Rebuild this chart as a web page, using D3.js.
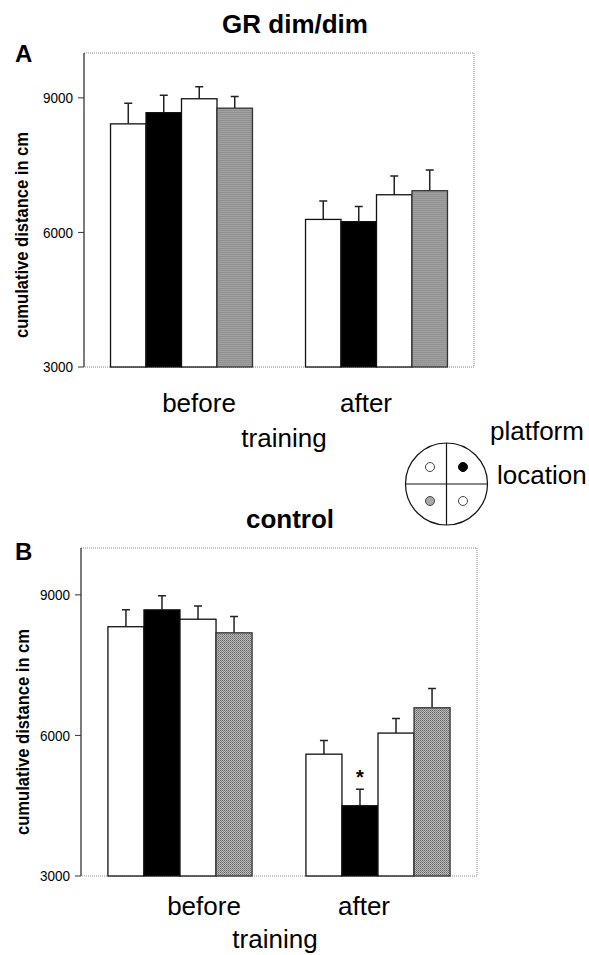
<!DOCTYPE html>
<html>
<head>
<meta charset="utf-8">
<script src="https://cdn.jsdelivr.net/npm/d3@7"></script>
<style>
  html, body { margin: 0; padding: 0; background: #fff; }
  svg { display: block; font-family: 'Liberation Sans', Arial, sans-serif; }
</style>
</head>
<body>
<div id="chart"></div>
<script>
// --- data ---
const groups = ['before', 'after'];
const yTicks = [3000, 6000, 9000];

const grBefore = [8420, 8670, 8980, 8770];
const grBeforeErr = [460, 390, 270, 260];
const grAfter = [6290, 6240, 6840, 6930];
const grAfterErr = [410, 340, 420, 460];

const ctBefore = [8320, 8680, 8480, 8190];
const ctBeforeErr = [360, 300, 280, 350];
const ctAfter = [5600, 4500, 6050, 6590];
const ctAfterErr = [290, 350, 310, 410];

// quadrant fills: bar order = top-left, top-right, bottom-right, bottom-left
const quadrantFill = ['white', 'black', 'white', 'gray'];

const W = 589, H = 955;
const svg = d3.select('#chart').append('svg').attr('width', W).attr('height', H);

// stippled grey fill
const defs = svg.append('defs');
const pat = defs.append('pattern').attr('id', 'stipple').attr('patternUnits', 'userSpaceOnUse')
  .attr('width', 2).attr('height', 2);
pat.append('rect').attr('width', 2).attr('height', 2).attr('fill', '#c4c4c4');
pat.append('rect').attr('x', 0).attr('y', 0).attr('width', 1).attr('height', 1).attr('fill', '#5e5e5e');
pat.append('rect').attr('x', 1).attr('y', 1).attr('width', 1).attr('height', 1).attr('fill', '#7c7c7c');

function fillOf(k) {
  if (k === 'white') return '#fff';
  if (k === 'black') return '#000';
  return 'url(#stipple)';
}

function drawPanel(opt) {
  const { left, right, top, bottom, data, errs } = opt;
  const g = svg.append('g');

  const y = d3.scaleLinear().domain([3000, 10000]).range([bottom, top]);
  const x0 = d3.scaleBand().domain(groups).range([left, right]).paddingInner(0.272).paddingOuter(0.136);
  const x1 = d3.scaleBand().domain(d3.range(4)).range([0, x0.bandwidth()]);

  // dotted frame
  g.append('path')
    .attr('d', `M${left},${top}H${right}V${bottom}H${left}`)
    .attr('fill', 'none').attr('stroke', '#8a8a8a').attr('stroke-width', 1).attr('stroke-dasharray', '1,1');

  groups.forEach((grp, gi) => {
    const vals = data[gi], er = errs[gi];
    const gg = g.append('g').attr('transform', `translate(${x0(grp)},0)`);
    // error bars (upper only)
    gg.selectAll('.err').data(vals).enter().append('path')
      .attr('d', (d, i) => {
        const cx = x1(i) + x1.bandwidth() / 2;
        return `M${cx},${y(d)}V${y(d + er[i])}M${cx - 4},${y(d + er[i])}H${cx + 4}`;
      })
      .attr('stroke', '#222').attr('stroke-width', 1.5).attr('fill', 'none');
    gg.selectAll('.bar').data(vals).enter().append('rect')
      .attr('x', (d, i) => x1(i))
      .attr('y', d => y(d))
      .attr('width', x1.bandwidth())
      .attr('height', d => y(3000) - y(d))
      .attr('fill', (d, i) => fillOf(quadrantFill[i]))
      .attr('stroke', (d, i) => quadrantFill[i] === 'gray' ? '#333' : '#111')
      .attr('stroke-width', 1.3);
  });

  // left axis
  const axis = g.append('g').attr('transform', `translate(${left},0)`);
  axis.append('line').attr('y1', top).attr('y2', bottom).attr('stroke', '#333').attr('stroke-width', 1.3);
  axis.selectAll('.tk').data(yTicks).enter().append('line')
    .attr('x1', -6).attr('x2', 0).attr('y1', d => y(d)).attr('y2', d => y(d))
    .attr('stroke', '#333').attr('stroke-width', 1);
  axis.selectAll('.tl').data(yTicks).enter().append('text')
    .attr('x', -11).attr('y', d => y(d)).attr('dy', '0.36em')
    .attr('text-anchor', 'end').attr('font-size', 14.5)
    .attr('textLength', 30).attr('lengthAdjust', 'spacingAndGlyphs')
    .text(d => d);

  // y label
  g.append('text')
    .attr('transform', `translate(${opt.labelX},${opt.labelY}) rotate(-90)`)
    .attr('text-anchor', 'middle').attr('font-size', 18).attr('font-weight', 'bold')
    .attr('textLength', 206).attr('lengthAdjust', 'spacingAndGlyphs')
    .text('cumulative distance in cm');

  // category labels
  g.append('text').attr('x', opt.beforeX).attr('y', bottom + opt.catDy).attr('text-anchor', 'middle')
    .attr('font-size', 26).text('before');
  g.append('text').attr('x', opt.afterX).attr('y', bottom + opt.catDy).attr('text-anchor', 'middle')
    .attr('font-size', 26).text('after');
  g.append('text').attr('x', opt.trainX).attr('y', bottom + opt.trainDy).attr('text-anchor', 'middle')
    .attr('font-size', 26).text('training');

  // titles
  g.append('text').attr('x', opt.titleX).attr('y', opt.titleY).attr('text-anchor', 'middle')
    .attr('font-size', 26).attr('font-weight', 'bold').text(opt.title);
  g.append('text').attr('x', 15).attr('y', opt.letterY)
    .attr('font-size', 24).attr('font-weight', 'bold').text(opt.letter);

  return { g, x0, x1, y };
}

drawPanel({
  left: 84, right: 474, top: 53, bottom: 367,
  data: [grBefore, grAfter], errs: [grBeforeErr, grAfterErr],
  labelX: 28, labelY: 235, beforeX: 199, afterX: 366, trainX: 284, catDy: 45, trainDy: 80,
  title: 'GR dim/dim', titleX: 295, titleY: 33, letter: 'A', letterY: 62
});

const pB = drawPanel({
  left: 81, right: 477, top: 548, bottom: 876,
  data: [ctBefore, ctAfter], errs: [ctBeforeErr, ctAfterErr],
  labelX: 29, labelY: 732, beforeX: 204, afterX: 364, trainX: 275, catDy: 39, trainDy: 72,
  title: 'control', titleX: 290, titleY: 528, letter: 'B', letterY: 560
});

// significance star over the black "after" bar in panel B
const starI = 1;
pB.g.append('text')
  .attr('x', pB.x0('after') + pB.x1(starI) + pB.x1.bandwidth() / 2)
  .attr('y', pB.y(ctAfter[starI] + ctAfterErr[starI]) - 5)
  .attr('text-anchor', 'middle').attr('font-size', 20).attr('font-weight', 'bold').text('*');

// platform location legend
const cx = 446.5, cy = 484, r = 41;
const leg = svg.append('g');
leg.append('circle').attr('cx', cx).attr('cy', cy).attr('r', r)
  .attr('fill', 'none').attr('stroke', '#111').attr('stroke-width', 1.2);
leg.append('path').attr('d', `M${cx - r},${cy}H${cx + r}M${cx},${cy - r}V${cy + r}`)
  .attr('stroke', '#111').attr('stroke-width', 1.2);
const quadPos = [[-1, -1], [1, -1], [1, 1], [-1, 1]];
leg.selectAll('.q').data(quadrantFill).enter().append('circle')
  .attr('cx', (d, i) => cx + quadPos[i][0] * 16.5)
  .attr('cy', (d, i) => cy + quadPos[i][1] * 17)
  .attr('r', 4.5)
  .attr('fill', d => d === 'white' ? '#fff' : d === 'black' ? '#000' : '#a8a8a8')
  .attr('stroke', d => d === 'black' ? '#000' : '#444').attr('stroke-width', 1);
leg.append('text').attr('x', 490).attr('y', 440).attr('font-size', 26).text('platform');
leg.append('text').attr('x', 497).attr('y', 484).attr('font-size', 26).text('location');
</script>
</body>
</html>
